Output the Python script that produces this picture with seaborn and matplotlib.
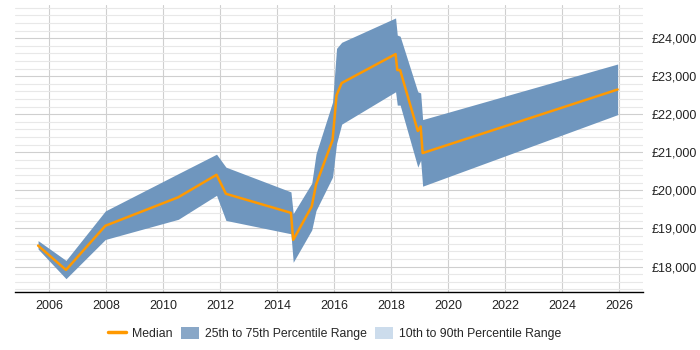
import matplotlib
matplotlib.use("Agg")
import matplotlib.pyplot as plt
from matplotlib.patches import Patch
from matplotlib.lines import Line2D
from matplotlib.ticker import FuncFormatter, MultipleLocator
import seaborn as sns
import pandas as pd

# datos
years = [2005.62, 2006.60, 2007.98, 2010.54, 2011.88, 2012.21, 2014.49, 2014.57,
         2015.22, 2015.37, 2015.95, 2016.09, 2016.27, 2018.16, 2018.22, 2018.32,
         2018.94, 2019.04, 2019.11, 2025.95]
median = [18550, 17910, 19070, 19820, 20410, 19910, 19410, 18700,
          19580, 20150, 21320, 22500, 22820, 23580, 23160, 23160,
          21560, 21680, 20980, 22650]
p75 = [18680, 18160, 19460, 20440, 20950, 20610, 19960, 19390,
       20190, 20960, 22320, 23730, 23890, 24530, 24080, 24050,
       22590, 22560, 21860, 23320]
p25 = [18460, 17680, 18710, 19240, 19870, 19210, 18860, 18110,
       18960, 19470, 20350, 21230, 21740, 22590, 22240, 22240,
       20610, 20790, 20110, 21990]
year_ticks = list(range(2006, 2027, 2))

df = pd.DataFrame({"Year": years, "Median": median, "P25": p25, "P75": p75})

sns.set_style("white")
plt.rcParams["font.family"] = ["Liberation Sans", "DejaVu Sans"]

fig = plt.figure(figsize=(7, 3.5), dpi=100)
ax = fig.add_axes([0.0214, 0.1657, 0.8972, 0.82])

color_band = "#6f96be"
color_med = "#ff9900"

ax.fill_between(df["Year"], df["P25"], df["P75"], color=color_band, linewidth=0, zorder=2)
sns.lineplot(data=df, x="Year", y="Median", color=color_med, linewidth=1.8, ax=ax,
             zorder=3, sort=False, estimator=None)

ax.set_xlim(2004.81, 2026.84)
ax.set_ylim(17330, 24870)
ax.set_xticks(year_ticks)
ax.yaxis.set_major_locator(MultipleLocator(1000))
ax.yaxis.set_minor_locator(MultipleLocator(200))
ax.yaxis.set_major_formatter(FuncFormatter(lambda v, p: f"£{int(v):,}"))
ax.yaxis.tick_right()

ax.grid(axis="y", which="minor", color="#e8e8e8", linewidth=0.8, zorder=0)
ax.grid(axis="y", which="major", color="#cfcfcf", linewidth=0.8, zorder=0)
ax.grid(axis="x", which="major", color="#cfcfcf", linewidth=0.8, zorder=0)
ax.set_axisbelow(True)

for s in ["top", "left", "right"]:
    ax.spines[s].set_visible(False)
ax.spines["bottom"].set_color("black")
ax.spines["bottom"].set_linewidth(1.0)
ax.tick_params(axis="both", which="both", length=0, labelsize=9, colors="#222222")
ax.tick_params(axis="x", pad=6)
ax.tick_params(axis="y", pad=6)
ax.set_xlabel("")
ax.set_ylabel("")

handles = [
    Line2D([0], [0], color=color_med, linewidth=2.5),
    Patch(facecolor="#89a7c7", edgecolor="none"),
    Patch(facecolor="#ccdcec", edgecolor="none"),
]
labels = ["Median", "25th to 75th Percentile Range", "10th to 90th Percentile Range"]
fig.legend(handles, labels, loc="center", bbox_to_anchor=(0.478, 0.047), ncol=3,
           frameon=False, fontsize=8.8, handlelength=1.5, handleheight=1.2,
           columnspacing=0.7, handletextpad=0.45)

plt.savefig("out.png", dpi=100)
plt.close()
